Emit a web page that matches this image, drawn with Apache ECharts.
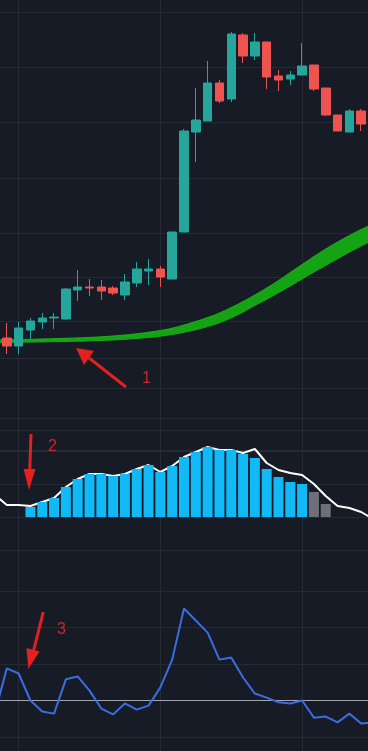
<!DOCTYPE html>
<html><head><meta charset="utf-8">
<script src="https://cdn.jsdelivr.net/npm/echarts@6/dist/echarts.min.js"></script>
<style>html,body{margin:0;padding:0;background:#171b26;overflow:hidden;width:368px;height:751px;}#c{position:absolute;left:-5px;top:0;width:378px;height:751px;}</style>
</head><body><div id="c"></div>
<script>
// ---- data (one entry per bar; first and last are off-screen padding bars) ----
const categories = ['1','2','3','4','5','6','7','8','9','10','11','12','13','14','15','16','17','18','19','20','21','22','23','24','25','26','27','28','29','30','31','32','33'];
// [open, close, low, high]
const candles = ['-',
  [6.2,5.4,4.6,7.7],[5.4,7.2,4.6,7.8],[7.0,7.9,6.1,8.2],[7.8,8.2,7.1,8.7],[8.2,8.3,7.1,8.7],
  [8.1,11.1,8.0,11.2],[11.0,11.3,9.9,13.0],[11.3,11.2,10.4,12.1],[11.3,10.9,10.0,12.0],[11.2,10.7,10.5,11.4],
  [10.5,11.8,10.0,12.6],[11.7,13.1,11.3,13.8],[12.9,13.1,11.5,14.1],[13.1,12.3,11.3,13.4],[12.1,16.8,12.1,16.8],
  [16.8,26.9,16.8,27.1],[26.8,28.0,23.8,31.2],[27.9,31.7,27.9,33.9],[31.7,29.9,29.7,32.0],[30.1,36.6,29.8,36.8],
  [36.5,34.4,33.7,36.7],[34.4,35.8,34.0,36.7],[35.8,32.3,31.1,35.8],[32.4,32.0,30.9,33.0],[32.1,32.5,31.5,32.9],
  [32.5,33.4,32.5,35.7],[33.5,31.1,30.9,33.5],[31.2,28.5,28.4,31.2],[28.5,26.9,26.9,28.5],[26.8,28.9,26.8,29.1],
  [28.9,27.6,26.9,29.1],
  '-'];
const maUpper = [6.00,6.02,6.04,6.07,6.10,6.13,6.17,6.21,6.26,6.32,6.40,6.50,6.62,6.77,6.95,7.18,7.50,7.85,8.25,8.70,9.25,9.85,10.50,11.20,11.95,12.75,13.55,14.35,15.10,15.80,16.45,17.05,17.60];
const maLower = [5.74,5.75,5.77,5.79,5.81,5.83,5.85,5.88,5.91,5.95,6.00,6.07,6.15,6.25,6.38,6.55,6.77,7.03,7.34,7.72,8.22,8.80,9.45,10.07,10.73,11.41,12.10,12.79,13.46,14.12,14.78,15.40,16.00];
const histBlue = [12,'-','-',10,15,19,30,38,43,43,41,43,48,52,45,51,60,65,70,67,67,63,59,48,40,35,33,'-','-','-','-','-','-'];
const histGray = ['-','-','-','-','-','-','-','-','-','-','-','-','-','-','-','-','-','-','-','-','-','-','-','-','-','-','-',25,13,'-','-','-','-'];
const signalLine = [22,12,12,11,15,19,30,38,43,43,41,43,48,52,45,51,60,65,70,67,67,64,68,54,47,44,42,33,21,11,9,5,-2];
const oscillator = [-3.3,8.8,7.4,0,-3.0,-3.6,5.8,6.6,2.7,-2.2,-3.8,-0.8,-2.5,-1.4,3.6,11.2,25.2,21.9,18.6,11.2,11.8,6.3,1.9,0.8,-0.5,-0.8,0,-4.7,-4.4,-6.0,-3.6,-6.3,-6.0];

// ---- layout / style ----
const GRID = '#262a35';
const OX = 5; // chart canvas is shifted 5px left of the page
const bandDiff = maUpper.map((u, i) => +(u - maLower[i]).toFixed(3));

function catX(gi, extra) {
  return Object.assign({type:'category', gridIndex:gi, data:categories, boundaryGap:false,
    axisLine:{show:false}, axisTick:{show:false}, axisLabel:{show:false}, splitLine:{show:false}}, extra || {});
}
function valY(gi, min, max, interval, showSplit) {
  return {type:'value', gridIndex:gi, min:min, max:max, interval:interval,
    axisLine:{show:false}, axisTick:{show:false}, axisLabel:{show:false},
    splitLine:{show:!!showSplit, lineStyle:{color:GRID, width:1}}};
}
function g(top, height) { return {left:0, right:0, top:top, height:height}; }
const grids = [
  g(0, 400),     // 0 price
  g(418, 132),   // 1 histogram
  g(591, 146),   // 2 oscillator
  g(0, 751),     // 3 vertical lines
  g(12, 221),    // 4
  g(233, 88),    // 5
  g(321, 37),    // 6
  g(358, 30),    // 7
  g(430, 20)     // 8
];
const xAxes = [
  catX(0), catX(1),
  catX(2, {axisLine:{show:true, onZero:true, lineStyle:{color:'#a3a6ae', width:1}}}),
  catX(3, {splitLine:{show:true, interval:function(idx){ return (idx - 2) % 12 === 0; }, lineStyle:{color:GRID, width:1}}}),
  catX(4), catX(5), catX(6), catX(7), catX(8)
];
const yAxes = [
  valY(0, 0, 40, 10, false),
  valY(1, -33, 99, 33, true),
  valY(2, -10, 30, 10, true),
  valY(3, 0, 1, 1, false),
  valY(4, 0, 4, 1, true),
  valY(5, 0, 2, 1, true),
  valY(6, 0, 1, 1, true),
  valY(7, 0, 1, 1, true),
  valY(8, 0, 1, 1, true)
];

const RED = '#e3211f';
function P(x, y) { return [x + OX, y]; }
function txt(t, x, y) {
  return {type:'text', x:x + OX, y:y, z:100,
    style:{text:t, fill:'#c8282a', font:'16px "Liberation Sans"', textAlign:'center', textVerticalAlign:'middle'}};
}
function seg(x1, y1, x2, y2) {
  return {type:'line', z:100, shape:{x1:x1 + OX, y1:y1, x2:x2 + OX, y2:y2}, style:{stroke:RED, lineWidth:3}};
}
function head(a, b, c) {
  return {type:'polygon', z:100, shape:{points:[P(a[0], a[1]), P(b[0], b[1]), P(c[0], c[1])]}, style:{fill:RED}};
}
const option = {
  backgroundColor:'#171b26',
  animation:false,
  grid:grids, xAxis:xAxes, yAxis:yAxes,
  series:[
    {type:'line', xAxisIndex:0, yAxisIndex:0, data:maLower, stack:'band', symbol:'none', smooth:true,
     lineStyle:{color:'#1aa81a', width:1}, z:1},
    {type:'line', xAxisIndex:0, yAxisIndex:0, data:bandDiff, stack:'band', symbol:'none', smooth:true,
     lineStyle:{color:'#20b020', width:1}, areaStyle:{color:'#13a313', opacity:1}, z:1},
    {type:'candlestick', xAxisIndex:0, yAxisIndex:0, data:candles, barWidth:9,
     itemStyle:{color:'#26a69a', color0:'#ef5350', borderColor:'#26a69a', borderColor0:'#ef5350', borderWidth:1}, z:3},
    {type:'line', xAxisIndex:1, yAxisIndex:1, data:signalLine, symbol:'none',
     lineStyle:{color:'#ffffff', width:2}, z:1},
    {type:'bar', xAxisIndex:1, yAxisIndex:1, data:histBlue, barWidth:10, itemStyle:{color:'#12b9f7'}, z:2},
    {type:'bar', xAxisIndex:1, yAxisIndex:1, data:histGray, barWidth:10, barGap:'-100%', itemStyle:{color:'#6d7079'}, z:2},
    {type:'line', xAxisIndex:2, yAxisIndex:2, data:oscillator, symbol:'none',
     lineStyle:{color:'#3b6de0', width:2}, z:3}
  ],
  graphic:[
    seg(126, 387, 89, 358), head([76,348],[94,351],[84,365]),
    seg(31, 434, 29.7, 472), head([29,490],[23.5,469],[35.5,469]),
    seg(43.3, 612, 33.5, 651), head([28.3,669],[26.5,648],[39.5,651.5]),
    txt('1', 146.5, 378.5), txt('2', 52.5, 446.5), txt('3', 61.5, 629.5)
  ]
};
const chart = echarts.init(document.getElementById('c'));
chart.setOption(option);
</script>
</body></html>
